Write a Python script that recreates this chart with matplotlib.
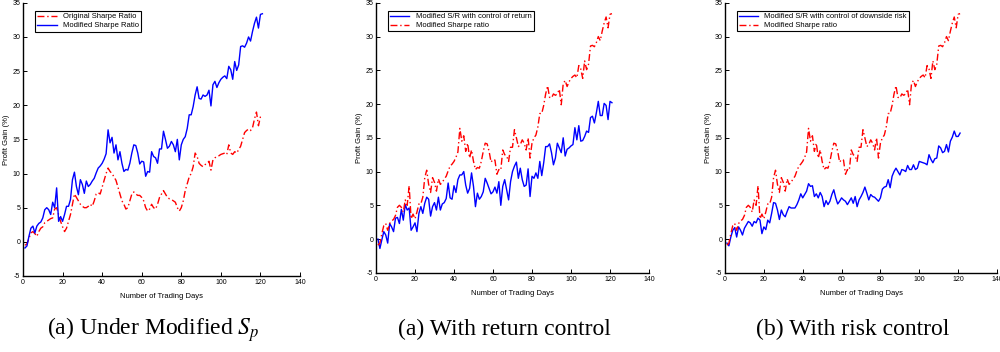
import matplotlib
matplotlib.use("Agg")
import matplotlib.pyplot as plt
import numpy as np

plt.rcParams['font.family'] = 'Liberation Sans'
plt.rcParams['axes.unicode_minus'] = False
plt.rcParams['mathtext.fontset'] = 'stix'

days = np.arange(1, 122)

# Original Sharpe ratio
orig_sr = [-0.5, -0.3, 0.5, 1.3, 1.5, 1.2, 0.8, 1.5, 2.0, 2.2,
           2.8, 3.0, 3.2, 3.4, 3.5, 4.8, 5.0, 4.0, 3.0, 2.2,
           1.5, 2.0, 3.0, 4.0, 5.5, 7.0, 6.5, 6.0, 5.5, 5.2,
           5.0, 5.0, 5.2, 5.5, 5.2, 6.0, 7.0, 7.2, 7.0, 8.0,
           9.0, 10.0, 10.8, 10.3, 10.0, 9.5, 9.0, 8.0, 7.0, 6.0,
           5.5, 4.8, 5.0, 6.0, 7.0, 7.3, 7.0, 6.8, 6.8, 6.5,
           6.0, 5.0, 4.5, 4.8, 5.5, 5.0, 4.8, 5.5, 6.5, 7.0,
           7.5, 7.0, 6.5, 6.3, 6.2, 6.0, 5.8, 5.0, 4.5, 5.0,
           6.0, 7.5, 8.5, 9.5, 10.0, 11.0, 13.0, 12.5, 11.5, 11.2,
           11.0, 11.3, 11.5, 11.8, 10.5, 12.0, 12.3, 12.5, 12.6, 12.8,
           12.9, 13.0, 12.8, 14.2, 13.0, 12.8, 13.2, 13.0, 13.5, 14.0,
           15.0, 16.0, 16.3, 16.5, 16.3, 16.7, 18.0, 19.0, 17.0, 18.3,
           18.5]

# Modified Sharpe ratio
mod_sr = [-0.9, -0.6, 0.8, 2.0, 2.3, 1.3, 2.3, 2.7, 2.9, 3.5,
          4.7, 5.0, 4.7, 4.0, 5.8, 5.0, 7.9, 3.0, 3.7, 3.0,
          4.0, 5.2, 5.2, 6.2, 9.1, 10.2, 8.1, 6.9, 9.1, 8.4,
          7.1, 8.9, 8.1, 8.4, 8.9, 9.3, 10.1, 10.8, 11.1, 11.5,
          12.1, 12.9, 16.4, 14.5, 15.3, 13.0, 14.2, 12.0, 13.2, 11.5,
          10.3, 10.6, 10.5, 11.5, 13.0, 14.2, 14.1, 13.0, 11.4, 11.8,
          11.7, 9.6, 10.3, 10.2, 13.2, 12.5, 12.3, 11.5, 13.6, 13.6,
          16.2, 15.0, 13.7, 14.0, 14.7, 14.2, 13.2, 15.0, 12.0, 14.2,
          15.0, 15.4, 16.6, 18.6, 18.6, 19.8, 21.5, 22.7, 21.0, 20.9,
          21.5, 21.3, 21.5, 22.2, 19.9, 23.0, 23.5, 22.6, 23.3, 23.8,
          24.1, 24.3, 23.9, 25.7, 25.2, 23.8, 26.4, 25.1, 25.9, 28.6,
          28.7, 28.5, 29.1, 30.0, 29.4, 30.8, 32.0, 32.9, 31.3, 33.3,
          33.4]

# Modified S/R with control of return
ret_ctrl = [0.0, -1.4, -0.1, 1.1, 0.6, -0.6, 2.3, 1.8, 1.1, 3.1,
            3.2, 2.3, 4.4, 2.8, 5.1, 4.3, 4.6, 1.3, 1.8, 2.4,
            1.1, 3.8, 4.8, 3.8, 5.3, 6.2, 5.9, 3.4, 4.8, 5.4,
            4.3, 6.2, 4.3, 5.2, 5.4, 6.0, 8.3, 6.1, 5.9, 7.9,
            6.9, 8.8, 9.5, 9.5, 10.0, 8.0, 6.8, 7.5, 9.8, 7.8,
            4.8, 6.8, 5.9, 6.3, 7.0, 9.0, 8.3, 7.5, 6.7, 7.0,
            7.7, 6.8, 8.5, 5.0, 7.8, 8.8, 7.3, 5.8, 8.5, 10.0,
            10.8, 11.4, 9.0, 10.5, 8.8, 7.8, 8.0, 10.4, 6.3, 9.3,
            9.0, 9.8, 9.0, 11.5, 9.4, 11.3, 13.7, 13.7, 14.1, 12.8,
            11.0, 12.0, 14.2, 13.5, 12.8, 15.0, 12.3, 13.3, 13.5, 13.8,
            14.0, 16.5, 14.7, 16.8, 14.5, 14.6, 15.2, 16.0, 15.8, 18.0,
            18.2, 17.2, 18.7, 20.4, 18.3, 18.3, 20.1, 19.8, 17.7, 20.4,
            20.2]

# Modified S/R with control of downside risk
risk_ctrl = [-0.6, -1.0, 0.3, 1.3, 1.7, 0.3, 1.8, 1.3, 0.6, 1.6,
             2.1, 2.6, 2.4, 1.9, 2.6, 2.4, 3.1, 2.8, 0.8, 1.8,
             1.4, 2.8, 2.4, 3.8, 5.4, 5.3, 4.3, 2.9, 4.3, 3.6,
             3.3, 4.1, 4.8, 4.6, 4.6, 4.6, 5.1, 5.8, 6.7, 6.1,
             6.6, 7.1, 8.2, 7.8, 7.9, 6.3, 6.7, 6.1, 6.9, 6.3,
             4.8, 5.7, 5.1, 5.6, 6.6, 7.3, 6.1, 5.2, 5.6, 6.1,
             5.8, 5.6, 5.1, 5.6, 6.1, 5.3, 6.3, 4.8, 5.8, 6.3,
             6.9, 7.7, 6.8, 5.8, 6.6, 6.3, 6.2, 5.9, 5.6, 6.1,
             7.4, 7.7, 7.8, 8.8, 7.6, 9.3, 10.0, 10.5, 10.0, 9.5,
             10.3, 10.2, 10.0, 10.9, 10.3, 10.3, 11.0, 10.3, 10.5, 11.5,
             11.4, 11.3, 11.2, 11.0, 12.5, 11.8, 11.3, 11.9, 12.0, 13.8,
             13.5, 12.8, 13.0, 14.0, 12.9, 14.5, 15.1, 16.0, 15.2, 15.2,
             15.7]

captions = ['(a) Under Modified $S_p$', '(a) With return control', '(b) With risk control']

fig = plt.figure(figsize=(10, 3.52), dpi=100)
ax1 = fig.add_axes([0.023, 0.216, 0.277, 0.776])
ax2 = fig.add_axes([0.376, 0.225, 0.273, 0.767])
ax3 = fig.add_axes([0.725, 0.225, 0.272, 0.767])

dash_dot = (0, (5, 2, 1, 2))

ax1.plot(days, orig_sr, color='red', linestyle=dash_dot, lw=1.0, label='Original Sharpe Ratio')
ax1.plot(days, mod_sr, color='blue', lw=1.0, label='Modified Sharpe Ratio')

ax2.plot(days, ret_ctrl, color='blue', lw=1.0, label='Modified S/R with control of return')
ax2.plot(days, mod_sr, color='red', linestyle=dash_dot, lw=1.0, label='Modified Sharpe ratio')

ax3.plot(days, risk_ctrl, color='blue', lw=1.0, label='Modified S/R with control of downside risk')
ax3.plot(days, mod_sr, color='red', linestyle=dash_dot, lw=1.0, label='Modified Sharpe ratio')

for ax, cap in zip([ax1, ax2, ax3], captions):
    ax.set_xlim(0, 140)
    ax.set_ylim(-5, 35)
    ax.set_xticks(range(0, 141, 20))
    ax.set_yticks(range(-5, 36, 5))
    ax.spines['top'].set_visible(False)
    ax.spines['right'].set_visible(False)
    for s in ('left', 'bottom'):
        ax.spines[s].set_linewidth(1.0)
    ax.tick_params(direction='in', length=3, labelsize=5, width=0.7, pad=2)
    ax.set_xlabel('Number of Trading Days', fontsize=5.5, labelpad=5)
    ax.set_ylabel('Profit Gain (%)', fontsize=5.5, labelpad=2)
    leg = ax.legend(loc='upper left', fontsize=5.5, fancybox=False, framealpha=1,
                    edgecolor='black', handlelength=2.5, borderpad=0.3,
                    labelspacing=0.2, bbox_to_anchor=(0.03, 0.985))
    leg.get_frame().set_linewidth(0.8)
    bb = ax.get_position()
    fig.text(bb.x0 + bb.width / 2 - 0.008, 0.065, cap, ha='center', va='center',
             fontsize=17, family='Liberation Serif')

fig.savefig('out.png', dpi=100)
